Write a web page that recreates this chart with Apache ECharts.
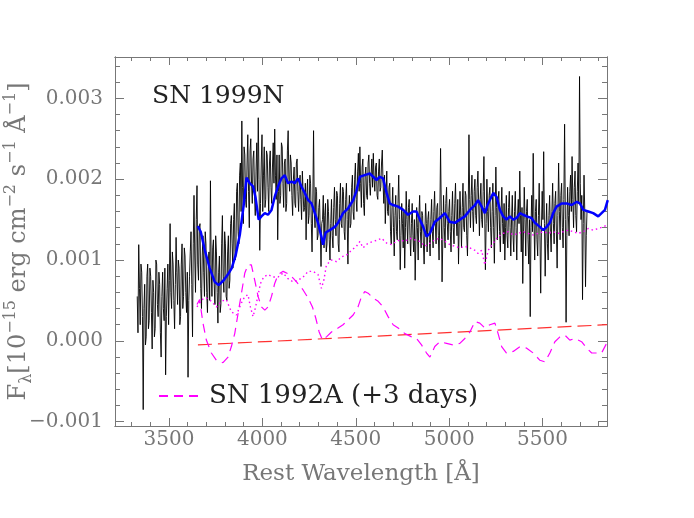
<!DOCTYPE html>
<html><head><meta charset="utf-8">
<script src="https://cdn.jsdelivr.net/npm/echarts@6/dist/echarts.min.js"></script>
<style>html,body{margin:0;padding:0;background:#fff}#c{width:694px;height:518px}</style>
</head><body><div id="c"></div>
<script>
// ---------- tick values / labels ----------
const xMajorTicks = [3500, 4000, 4500, 5000, 5500];
const xTickLabels = ['3500', '4000', '4500', '5000', '5500'];
const xMinorTicks = [3300,3400,3600,3700,3800,3900,4100,4200,4300,4400,4600,4700,4800,4900,5100,5200,5300,5400,5600,5700,5800];
const yMajorTicks = [-1, 0, 1, 2, 3];            // units of 1e-3
const yTickLabels = ['\u22120.001', '0.000', '0.001', '0.002', '0.003'];
const yMinorTicks = [-0.8,-0.6,-0.4,-0.2,0.2,0.4,0.6,0.8,1.2,1.4,1.6,1.8,2.2,2.4,2.6,2.8,3.2,3.4];

// ---------- SN 1999N observed spectrum (wavelength grid start/step in Angstrom, flux in 1e-3 units) ----------
const specLambda0 = 3330, specStep = 4;
const specFlux = [
 0.55,0.10,1.19,0.65,0.20,0.95,0.85,0.30,-0.85,0.40,0.70,-0.05,0.05,0.80,0.95,0.15,0.25,0.90,
 0.80,0.35,-0.10,0.75,0.60,0.05,0.15,1.00,0.95,0.45,0.30,0.85,0.70,0.10,-0.20,0.55,0.85,0.40,0.25,0.90,-0.42,0.30,0.65,0.95,0.20,0.75,
 1.45,0.60,0.40,1.10,0.95,0.50,0.15,0.70,1.28,0.85,0.45,1.00,0.90,0.20,0.30,0.95,1.20,0.40,0.55,1.15,1.05,0.60,0.35,0.85,-0.45,0.50,0.80,1.10,
 1.35,0.70,0.05,1.20,1.80,1.05,0.60,1.50,1.92,0.95,0.75,1.40,1.45,0.65,0.40,1.05,1.30,0.85,0.55,1.35,1.20,0.60,0.35,0.90,1.10,0.50,
 1.98,0.90,0.55,1.15,1.25,0.70,0.45,1.30,1.10,0.60,0.22,0.85,1.05,0.35,0.45,1.20,1.55,0.80,0.60,1.35,1.20,0.55,0.50,1.10,1.30,0.65,0.75,1.45,
 1.55,1.20,0.90,1.50,1.70,1.00,1.05,1.85,1.95,1.35,1.20,2.05,2.20,1.60,2.72,1.90,1.45,2.40,2.30,1.75,1.65,2.20,2.55,1.85,1.40,2.35,
 2.50,1.95,1.70,2.25,2.35,1.80,1.55,2.10,2.45,1.85,2.76,2.00,1.12,1.70,2.20,2.55,1.60,2.05,2.40,1.65,1.75,2.35,2.30,1.90,1.60,2.20,
 2.35,1.90,1.70,2.15,2.45,1.95,2.62,2.05,1.75,2.30,1.25,1.85,2.30,1.70,1.80,2.45,2.40,1.95,1.65,2.20,2.25,1.60,1.70,2.35,2.60,2.00,1.85,2.30,
 2.20,1.80,1.55,2.00,2.15,1.70,1.65,2.20,2.25,1.85,1.60,1.95,2.05,1.75,1.50,2.10,2.10,1.60,1.65,1.95,1.25,1.80,2.00,1.45,1.55,2.05,
 1.95,1.45,1.10,1.70,2.60,1.60,1.40,1.90,1.85,1.25,1.30,1.65,1.75,1.35,0.92,1.45,1.50,1.80,1.15,1.55,1.70,1.10,1.20,1.75,1.60,1.25,
 1.00,1.45,1.75,1.30,1.15,1.65,1.90,1.50,1.30,1.85,1.80,1.20,1.10,1.70,1.95,1.45,1.40,1.90,1.85,1.35,1.25,1.75,1.95,1.50,0.95,1.60,1.80,1.40,
 1.45,1.90,2.05,1.60,1.50,2.00,2.20,1.75,1.60,2.10,2.32,1.85,2.40,1.95,1.65,2.15,2.25,1.70,1.55,2.05,2.15,1.80,1.75,2.20,2.30,1.95,
 1.80,2.05,2.25,1.90,2.32,2.00,1.85,2.15,2.20,1.80,1.75,2.10,2.25,1.85,1.90,2.20,2.36,1.95,1.70,2.05,1.45,1.80,2.10,1.60,1.55,1.90,1.95,1.35,
 1.20,1.65,1.90,1.40,1.05,1.55,1.80,1.35,1.25,1.70,2.05,1.50,0.88,1.30,1.70,1.45,1.15,1.60,0.90,1.40,1.85,1.50,1.20,1.65,1.75,1.30,
 1.05,1.45,1.70,1.30,1.10,1.50,0.75,1.25,1.65,1.40,1.00,1.55,1.80,1.35,1.15,1.60,1.55,1.20,0.95,1.35,1.70,1.45,1.10,1.50,1.60,1.25,
 1.05,1.50,1.75,1.35,1.15,1.60,1.85,1.45,1.20,1.65,1.70,1.30,1.00,1.55,2.38,1.60,0.73,1.25,1.80,1.40,1.15,1.70,1.90,1.45,1.25,1.60,1.75,1.35,
 1.10,1.55,1.85,1.40,1.20,1.70,1.95,1.50,1.30,1.75,0.95,1.45,1.85,1.55,1.15,1.65,1.95,1.40,1.35,1.85,1.80,1.30,1.05,1.60,2.55,1.75,
 1.40,1.80,2.05,1.60,1.35,1.85,2.00,1.55,1.45,1.90,2.10,1.70,1.30,1.75,1.95,1.50,1.40,1.85,2.28,1.65,0.88,1.45,2.00,1.60,1.35,1.80,1.90,1.40,
 1.15,1.60,1.95,1.40,0.96,1.55,2.15,1.65,1.25,1.75,1.85,1.35,1.10,1.60,1.90,1.45,1.20,1.70,1.00,1.40,1.80,1.30,1.15,1.65,1.85,1.40,
 1.05,1.50,1.80,1.30,1.10,1.60,1.85,1.40,1.00,1.55,1.75,1.45,2.10,1.55,1.10,1.65,0.71,1.35,1.90,1.50,1.05,1.60,1.75,1.25,0.95,1.50,0.30,1.40,
 1.80,1.35,2.32,1.50,1.00,1.60,1.75,1.25,1.05,1.55,1.95,1.30,0.59,1.40,1.85,1.50,2.34,1.45,0.80,1.35,1.70,1.20,1.00,1.55,1.80,1.35,
 1.10,1.60,1.95,1.45,1.20,1.70,1.85,1.35,0.90,1.55,2.20,1.60,1.25,1.80,1.95,1.40,1.15,1.75,2.68,1.50,0.23,1.30,1.90,1.55,1.30,1.85,
 2.05,1.60,2.28,1.75,1.40,1.90,2.10,1.55,1.35,1.85,2.20,1.70,3.27,1.95,1.50,1.80,0.51,1.45,2.05,1.60,0.67,1.30,1.60
];

// ---------- smoothed spectrum (blue) ----------
const smoothLambda = [3654,3670,3692,3718,3745,3766,3793,3815,3836,3857,3879,3900,3915,3932,3950,3963,3980,3995,4013,4030,4049,4066,4084,4102,4120,4137,4156,4173,4191,4209,4227,4245,4263,4281,4298,4316,4325,4339,4361,4388,4405,4432,4459,4486,4503,4522,4548,4575,4593,4611,4629,4646,4665,4682,4700,4727,4754,4780,4807,4825,4843,4861,4879,4897,4923,4950,4977,5004,5031,5057,5084,5111,5138,5155,5174,5191,5209,5236,5254,5272,5289,5307,5325,5343,5361,5379,5396,5415,5441,5459,5486,5504,5522,5539,5557,5575,5602,5629,5656,5683,5700,5718,5745,5771,5798,5816,5834,5849];
const smoothFlux   = [1.42,1.35,1.12,0.90,0.73,0.69,0.75,0.82,0.90,1.06,1.31,1.68,2.02,1.95,1.91,1.78,1.50,1.54,1.58,1.56,1.62,1.78,1.91,2.01,2.05,1.95,1.97,1.95,2.01,1.91,1.83,1.74,1.70,1.58,1.46,1.29,1.19,1.34,1.37,1.41,1.46,1.58,1.64,1.74,1.85,2.03,2.05,2.07,2.03,1.99,2.03,2.01,1.83,1.70,1.68,1.66,1.62,1.56,1.60,1.60,1.50,1.41,1.29,1.33,1.47,1.52,1.58,1.47,1.46,1.50,1.54,1.62,1.68,1.74,1.66,1.58,1.70,1.83,1.78,1.62,1.54,1.50,1.54,1.50,1.52,1.58,1.56,1.54,1.52,1.46,1.41,1.37,1.41,1.46,1.58,1.66,1.70,1.70,1.68,1.72,1.70,1.62,1.60,1.58,1.54,1.58,1.62,1.74];

// ---------- SN 1992A comparison (dotted) ----------
const dotLambda = [3650,3674,3700,3727,3754,3781,3807,3834,3861,3888,3906,3923,3936,3950,3964,3977,3990,4007,4030,4057,4084,4111,4137,4164,4191,4218,4245,4271,4298,4316,4329,4343,4370,4397,4424,4450,4477,4504,4522,4539,4566,4593,4620,4638,4665,4691,4718,4736,4763,4789,4816,4843,4870,4897,4923,4950,4977,5004,5031,5057,5084,5111,5138,5155,5174,5191,5209,5236,5262,5289,5316,5343,5370,5396,5423,5450,5477,5504,5530,5557,5584,5611,5638,5664,5691,5718,5745,5771,5798,5825,5843];
const dotFlux   = [0.42,0.51,0.53,0.49,0.42,0.49,0.51,0.36,0.32,0.47,0.55,0.57,0.42,0.30,0.42,0.57,0.71,0.79,0.82,0.79,0.79,0.84,0.77,0.73,0.75,0.79,0.86,0.86,0.82,0.65,0.75,0.94,1.00,0.98,1.04,1.06,1.12,1.17,1.23,1.15,1.21,1.23,1.25,1.27,1.21,1.19,1.23,1.25,1.23,1.27,1.25,1.23,1.17,1.21,1.25,1.27,1.23,1.19,1.17,1.15,1.17,1.15,1.12,1.08,1.12,0.94,1.12,1.21,1.29,1.33,1.35,1.31,1.33,1.35,1.33,1.31,1.33,1.35,1.33,1.35,1.33,1.35,1.37,1.35,1.33,1.35,1.39,1.37,1.39,1.41,1.43];

// ---------- SN 1992A (+3 days) (dashed) ----------
const dashLambda = [3650,3664,3682,3700,3727,3754,3789,3816,3834,3852,3870,3888,3906,3923,3941,3959,3977,3995,4013,4030,4049,4066,4084,4111,4147,4183,4218,4245,4268,4286,4304,4322,4343,4370,4405,4432,4459,4486,4512,4531,4548,4566,4593,4620,4646,4673,4700,4727,4763,4799,4825,4852,4879,4897,4923,4950,4986,5021,5057,5084,5111,5138,5164,5191,5218,5245,5262,5281,5307,5343,5379,5415,5450,5486,5513,5539,5566,5593,5620,5646,5673,5709,5736,5763,5790,5816,5843];
const dashFlux   = [0.45,0.51,0.22,0.01,-0.15,-0.24,-0.27,-0.20,-0.07,0.09,0.34,0.59,0.84,0.94,0.94,0.75,0.55,0.42,0.38,0.42,0.55,0.71,0.82,0.86,0.82,0.73,0.63,0.53,0.42,0.28,0.11,0.01,0.05,0.11,0.16,0.20,0.26,0.32,0.42,0.55,0.61,0.59,0.53,0.49,0.42,0.30,0.20,0.16,0.09,0.05,0.03,-0.05,-0.15,-0.20,-0.07,-0.01,-0.03,-0.05,-0.03,0.03,0.11,0.24,0.22,0.16,0.20,0.22,0.09,-0.07,-0.15,-0.13,-0.07,-0.09,-0.15,-0.24,-0.26,-0.15,-0.01,0.05,0.07,0.01,0.03,-0.01,-0.09,-0.15,-0.15,-0.15,-0.03];

// ---------- red continuum line ----------
const contLambda = [3655, 5845];
const contFlux   = [-0.05, 0.20];

// ---------- build ----------
const FF = 'DejaVu Serif';
const AX = '#777', TXT = '#777';
const X_MIN = 3211, X_MAX = 5845, Y_MIN = -1.0526, Y_MAX = 3.511;
const pair = (xs, ys) => xs.map((x, i) => [x, ys[i]]);
const specData = specFlux.map((v, i) => [specLambda0 + i * specStep, v]);

function xAx(pos, ticks, len, withLabels) {
  const a = {type:'value', min:X_MIN, max:X_MAX, position:pos,
    axisLine:{show:true, onZero:false, lineStyle:{color:AX, width:1}},
    axisTick:{show:true, inside:true, length:len, customValues:ticks, lineStyle:{color:AX, width:1}},
    axisLabel:{show:false}, splitLine:{show:false}};
  if (withLabels) {
    a.axisLabel = {show:true, customValues:xMajorTicks, margin:4, color:TXT, fontSize:20, fontFamily:FF,
      formatter: v => xTickLabels[xMajorTicks.indexOf(Math.round(v))]};
    a.name = 'Rest Wavelength [\u00C5]';
    a.nameLocation = 'middle'; a.nameGap = 37; a.nameMoveOverlap = false;
    a.nameTextStyle = {fontSize:23, fontFamily:FF, color:TXT};
  }
  return a;
}
function yAx(pos, ticks, len, withLabels) {
  const a = {type:'value', min:Y_MIN, max:Y_MAX, position:pos,
    axisLine:{show:true, onZero:false, lineStyle:{color:AX, width:1}},
    axisTick:{show:true, inside:true, length:len, customValues:ticks, lineStyle:{color:AX, width:1}},
    axisLabel:{show:false}, splitLine:{show:false}};
  if (withLabels) {
    a.axisLabel = {show:true, customValues:yMajorTicks, margin:12, color:TXT, fontSize:20, fontFamily:FF,
      formatter: v => yTickLabels[yMajorTicks.indexOf(Math.round(v))]};
    a.name = '{m|F}{sub|\u03BB}{m|[10}{sup|\u221215}{m| erg cm}{sup|\u22122}{m| s}{sup|\u22121}{m| \u00C5}{sup|\u22121}{m|]}';
    a.nameLocation = 'middle'; a.nameGap = 80; a.nameRotate = 90; a.nameMoveOverlap = false;
    a.nameTextStyle = {color:TXT, fontFamily:FF, rich:{
      m:{fontSize:24, lineHeight:32, fontFamily:FF, color:TXT},
      sup:{fontSize:16, lineHeight:16, verticalAlign:'top', fontFamily:FF, color:TXT},
      sub:{fontSize:16, lineHeight:16, verticalAlign:'bottom', fontFamily:FF, color:TXT}}};
  }
  return a;
}

const chart = echarts.init(document.getElementById('c'), null, {renderer:'canvas'});
chart.setOption({
  animation:false,
  backgroundColor:'#fff',
  grid:{left:115, right:87, top:57, bottom:92, containLabel:false, outerBoundsMode:'none'},
  title:{text:'SN 1999N', left:152, top:84, padding:0,
    textStyle:{fontSize:25, fontWeight:'normal', color:'#222', fontFamily:FF}},
  legend:{data:['SN 1992A (+3 days)'], left:158, top:383, padding:0, itemWidth:40, itemHeight:14,
    itemStyle:{opacity:0, color:'rgba(0,0,0,0)', borderWidth:0},
    textStyle:{fontSize:26, fontFamily:FF, color:'#222', padding:[0,0,0,5]}},
  xAxis:[xAx('bottom', xMajorTicks, 8, true), xAx('bottom', xMinorTicks, 4, false),
         xAx('top', xMajorTicks, 8, false), xAx('top', xMinorTicks, 4, false)],
  yAxis:[yAx('left', yMajorTicks, 9, true), yAx('left', yMinorTicks, 5, false),
         yAx('right', yMajorTicks, 9, false), yAx('right', yMinorTicks, 5, false)],
  series:[
    {name:'SN 1999N', type:'line', data:specData, symbol:'none', silent:true, z:2,
      lineStyle:{color:'#000', width:1, opacity:0.9}},
    {name:'continuum', type:'line', data:pair(contLambda, contFlux), symbol:'none', silent:true, z:3,
      lineStyle:{color:'#ff3030', width:1.2, type:[14,6]}},
    {name:'SN 1992A (+3 days)', type:'line', data:pair(dashLambda, dashFlux), symbol:'none', silent:true, z:4,
      lineStyle:{color:'#ff00ff', width:1.2, type:[9,6]}, itemStyle:{color:'#ff00ff'}},
    {name:'SN 1992A', type:'line', data:pair(dotLambda, dotFlux), symbol:'none', silent:true, z:4,
      lineStyle:{color:'#ff00ff', width:1.4, type:[1.5,3]}},
    {name:'smoothed', type:'line', data:pair(smoothLambda, smoothFlux), symbol:'none', silent:true, z:5,
      lineStyle:{color:'#0000ff', width:2.5}}
  ]
});
</script></body></html>
